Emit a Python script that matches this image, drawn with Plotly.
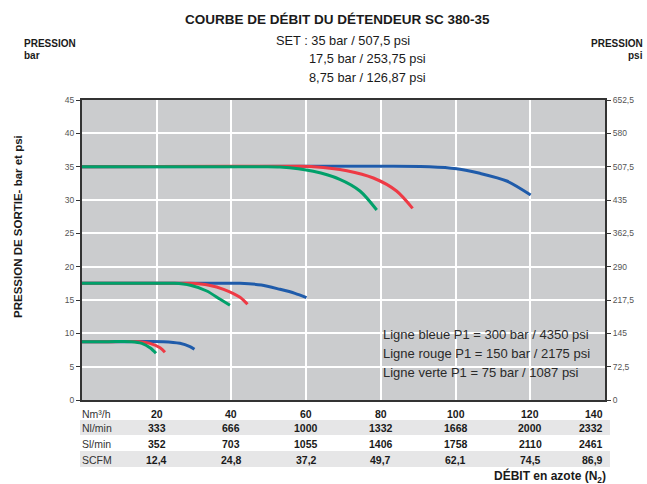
import plotly.graph_objects as go

# ---------------- data ----------------
# 35 bar set-point curves (x = Nm3/h, y = bar)
blue35_x = [0, 60, 80, 93, 100.3, 106.5, 113.7, 120.1]
blue35_y = [35, 35.05, 35.05, 35.0, 34.7, 34.0, 32.85, 30.75]
red35_x = [0, 40, 57, 62, 70.9, 78, 84.2, 88.5]
red35_y = [35, 35.05, 35.05, 35.0, 34.4, 33.3, 31.35, 28.75]
green35_x = [0, 30, 48.5, 53, 61.9, 69, 74.4, 78.9]
green35_y = [35, 35.0, 35.0, 34.95, 34.3, 33.1, 31.35, 28.5]

# 17.5 bar set-point curves
blue17_x = [0, 30, 42.3, 48, 53, 57, 60.1]
blue17_y = [17.5, 17.5, 17.5, 17.25, 16.6, 16.0, 15.36]
red17_x = [0, 20, 28.9, 34, 37.9, 42.3, 44.3]
red17_y = [17.5, 17.5, 17.5, 17.2, 16.6, 15.4, 14.35]
green17_x = [0, 15, 24.7, 29, 33.4, 37, 39.6]
green17_y = [17.5, 17.5, 17.5, 17.2, 16.35, 15.1, 14.2]

# 8.75 bar set-point curves
blue8_x = [0, 12, 21.8, 26.2, 28.9, 30.1]
blue8_y = [8.75, 8.75, 8.75, 8.5, 8.0, 7.6]
red8_x = [0, 8, 15.5, 18.2, 20.9, 22.2]
red8_y = [8.75, 8.75, 8.75, 8.5, 7.85, 7.15]
green8_x = [0, 7, 13.3, 16, 18.3, 19.8]
green8_y = [8.75, 8.75, 8.75, 8.5, 7.8, 7.0]

# axis ticks
bar_ticks = [0, 5, 10, 15, 20, 25, 30, 35, 40, 45]
psi_ticks = [0, 72.5, 145, 217.5, 290, 362.5, 435, 507.5, 580, 652.5]
psi_labels = ["0", "72,5", "145", "217,5", "290", "362,5", "435", "507,5", "580", "652,5"]

# flow table
flow_nm3h = [20, 40, 60, 80, 100, 120, 140]
flow_nl_min = ["333", "666", "1000", "1332", "1668", "2000", "2332"]
flow_sl_min = ["352", "703", "1055", "1406", "1758", "2110", "2461"]
flow_scfm = ["12,4", "24,8", "37,2", "49,7", "62,1", "74,5", "86,9"]
row_names = ["Nm³/h", "Nl/min", "Sl/min", "SCFM"]

legend_lines = ["Ligne bleue P1 = 300 bar / 4350 psi",
                "Ligne rouge P1 = 150 bar / 2175 psi",
                "Ligne verte P1 = 75 bar / 1087 psi"]

BLUE = "#1F5BAA"
RED = "#EE3A45"
GREEN = "#00A06A"

# ---------------- layout geometry ----------------
W, H = 647, 484
L, R, T, B = 82, 605, 100, 400   # plot-area pixel edges


def px(xp):
    return (xp - L) / (R - L)


def py(yp):
    return (B - yp) / (B - T)


FONT = "Liberation Sans, Arial, sans-serif"

fig = go.Figure()

curves = [
    (blue35_x, blue35_y, BLUE), (red35_x, red35_y, RED), (green35_x, green35_y, GREEN),
    (blue17_x, blue17_y, BLUE), (red17_x, red17_y, RED), (green17_x, green17_y, GREEN),
    (blue8_x, blue8_y, BLUE), (red8_x, red8_y, RED), (green8_x, green8_y, GREEN),
]
# draw blue first, then red, then green on top
order = [0, 3, 6, 1, 4, 7, 2, 5, 8]
for i in order:
    cx, cy, col = curves[i]
    fig.add_trace(go.Scatter(x=cx, y=cy, mode="lines",
                             line=dict(color=col, width=3, shape="spline", smoothing=0.8),
                             showlegend=False, hoverinfo="skip"))

# invisible trace to activate the right psi axis
fig.add_trace(go.Scatter(x=[0], y=[0], yaxis="y2", mode="markers",
                         marker=dict(opacity=0), showlegend=False, hoverinfo="skip"))

annotations = []
DARK = "#1a1a1a"


def note(text, xp, yp, size, anchor="center", color=DARK, angle=0):
    annotations.append(dict(text=text, x=px(xp), y=py(yp), xref="paper", yref="paper",
                            xanchor=anchor, yanchor="middle", showarrow=False,
                            textangle=angle,
                            font=dict(size=size, color=color, family=FONT)))


# title & subtitle
note("<b>COURBE DE DÉBIT DU DÉTENDEUR SC 380-35</b>", 337, 19, 13.5)
note("SET : 35 bar / 507,5 psi", 343, 41, 12.8)
note("17,5 bar / 253,75 psi", 367, 59, 12.8)
note("8,75 bar / 126,87 psi", 367, 77, 12.8)

# corner labels
note("<b>PRESSION</b>", 22, 44, 10, anchor="left")
note("<b>bar</b>", 22, 56, 10, anchor="left")
note("<b>PRESSION</b>", 645, 44, 10, anchor="right")
note("<b>psi</b>", 645, 56, 10, anchor="right")

# y-axis title
note("<b>PRESSION DE SORTIE- bar et psi</b>", 18, 227, 11.5, angle=-90)

# legend text
for txt, yp in zip(legend_lines, [334, 353, 372]):
    note(txt, 381, yp, 13, anchor="left", color="#2a2a2a")

# flow table
rows = [[str(v) for v in flow_nm3h], flow_nl_min, flow_sl_min, flow_scfm]
row_y = [414, 428, 444, 459.5]
for name, vals, yp in zip(row_names, rows, row_y):
    note(name, 80, yp, 10.5, anchor="left", color="#333333")
    for xv, v in zip(flow_nm3h, vals):
        if xv == flow_nm3h[-1]:
            note("<b>%s</b>" % v, 605, yp, 10.5, anchor="right")
        else:
            annotations.append(dict(text="<b>%s</b>" % v, x=xv, y=py(yp), xref="x",
                                    yref="paper", xanchor="center", yanchor="middle",
                                    showarrow=False,
                                    font=dict(size=10.5, color=DARK, family=FONT)))

note("<b>DÉBIT en azote (N<sub>2</sub>)</b>", 608, 476, 12, anchor="right")

shapes = []
for y0, y1 in [(420, 435), (451, 467)]:
    shapes.append(dict(type="rect", xref="paper", yref="paper",
                       x0=px(80), x1=px(610), y0=py(y1), y1=py(y0),
                       fillcolor="#E6E6E7", line=dict(width=0), layer="below"))

fig.update_layout(
    width=W, height=H,
    margin=dict(l=L, r=W - R, t=T, b=H - B, pad=0),
    paper_bgcolor="white",
    plot_bgcolor="#CBCCCE",
    font=dict(family=FONT, color="#444444"),
    showlegend=False,
    xaxis=dict(range=[0, 140], tickvals=[0, 20, 40, 60, 80, 100, 120, 140],
               showticklabels=False, showgrid=True, gridcolor="white", gridwidth=1.5,
               zeroline=False, showline=True, linecolor="#333333", linewidth=2, mirror=True,
               ticks=""),
    yaxis=dict(range=[0, 45], tickvals=bar_ticks, showgrid=True, gridcolor="white", gridwidth=1.5,
               zeroline=False, showline=True, linecolor="#333333", linewidth=2,
               ticks="outside", ticklen=4, tickcolor="#333333", tickwidth=1,
               tickfont=dict(size=8.5, color="#555555", family=FONT)),
    yaxis2=dict(range=[0, 652.5], tickvals=psi_ticks, ticktext=psi_labels, overlaying="y",
                side="right", showgrid=False, zeroline=False, showline=True,
                linecolor="#333333", linewidth=2, ticks="outside", ticklen=4,
                tickcolor="#333333", tickwidth=1,
                tickfont=dict(size=8.5, color="#555555", family=FONT)),
    annotations=annotations,
    shapes=shapes,
)

fig.write_html("out.html", config={"displayModeBar": False},
               post_script="document.body.style.margin='0';document.body.style.padding='0';")
